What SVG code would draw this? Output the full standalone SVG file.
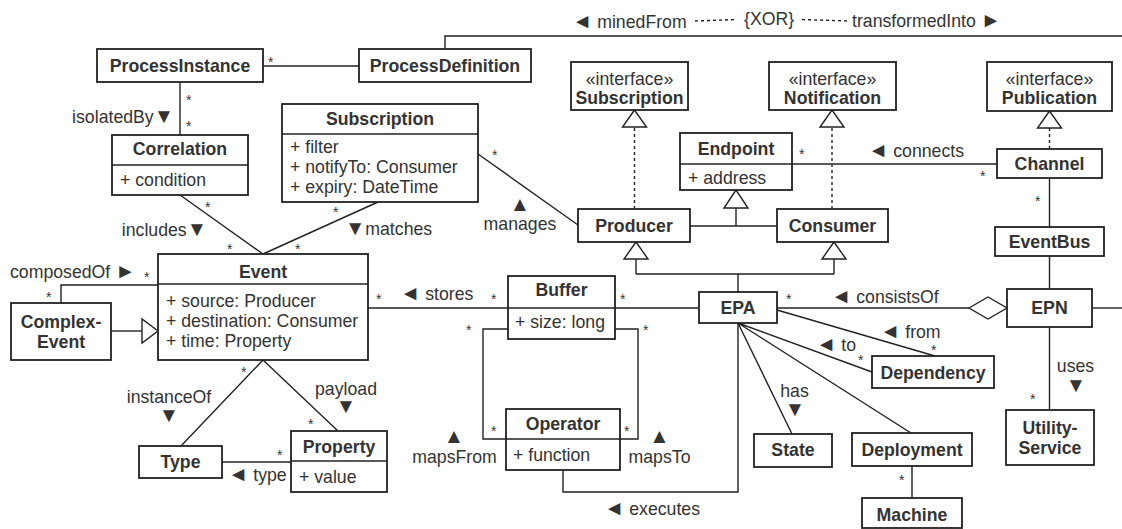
<svg xmlns="http://www.w3.org/2000/svg" width="1122" height="529" viewBox="0 0 1122 529">
<style>
.b{fill:#fff;stroke:#222;stroke-width:1.8}
.c{fill:none;stroke:#222;stroke-width:1.4}
.d{stroke-dasharray:3 3}
.h{fill:#fff;stroke:#222;stroke-width:1.4}
text{font-family:"Liberation Sans",Arial,sans-serif;font-size:17.7px;fill:#333}
.t{font-weight:bold;text-anchor:middle}
.m{text-anchor:middle}
.e{text-anchor:end}
.s{font-size:14px}
.g{font-size:20.5px}
</style>
<rect width="1122" height="529" fill="#fff"/>
<g id="connectors">
<path class="c" d="M263,66H359"/>
<path class="c" d="M445,49V36H1122"/>
<path class="c d" d="M695,21L737,19.5"/>
<path class="c d" d="M802,19.5L848,21"/>
<path class="c" d="M180,82V135"/>
<path class="c" d="M180,195L263,254"/>
<path class="c" d="M378,202L263,254"/>
<path class="c" d="M478,154L578,225"/>
<path class="c" d="M368,308H508M615,308H699"/>
<path class="c" d="M777,308H969"/>
<polygon class="h" points="969,308 988,297 1007,308 988,319"/>
<path class="c" d="M1092,308H1122"/>
<path class="c" d="M1049.5,178V227M1049.5,256V289M1049.5,327V410"/>
<path class="c" d="M792,164H997"/>
<path class="c d" d="M634.5,209V127M832,209V127M1049.5,149V128"/>
<polygon class="h" points="634.5,110 622.5,127 646.5,127"/>
<polygon class="h" points="832,110 820,127 844,127"/>
<polygon class="h" points="1049.5,111 1037.5,128 1061.5,128"/>
<path class="c" d="M690,226H777M736,226V208"/>
<polygon class="h" points="736,190 724,208 748,208"/>
<path class="c" d="M738,292V274M636,274H834M636,274V259M834,274V259"/>
<polygon class="h" points="636,242 624,259 648,259"/>
<polygon class="h" points="834,242 822,259 846,259"/>
<path class="c" d="M508,329H483V439H506"/>
<path class="c" d="M615,329H638V439H620"/>
<path class="c" d="M563,470V492H738V323"/>
<path class="c" d="M738,323L792,434M738,323L911,433M738,323L872,372M777,310L935,356"/>
<path class="c" d="M912,466V498"/>
<path class="c" d="M61,303V285H158"/>
<path class="c" d="M111,331H142"/>
<polygon class="h" points="158,331 142,319 142,343"/>
<path class="c" d="M263,360L181,446M263,360L338,431"/>
<path class="c" d="M222,462H291"/>
</g>
<g id="labels">
<text x="572" y="28"><tspan class="g">◄</tspan> minedFrom</text>
<text x="744" y="25">{XOR}</text>
<text x="852" y="27">transformedInto <tspan class="g">►</tspan></text>
<text class="s" x="268" y="67">*</text>
<text class="e" x="174" y="123">isolatedBy<tspan class="g">▼</tspan></text>
<text class="s" x="186" y="105">*</text>
<text class="s" x="186" y="131">*</text>
<text class="e" x="207" y="236">includes<tspan class="g">▼</tspan></text>
<text class="s" x="205" y="212">*</text>
<text class="s" x="227" y="254">*</text>
<text x="345" y="235"><tspan class="g">▼</tspan>matches</text>
<text class="s" x="333" y="217">*</text>
<text class="s" x="295" y="254">*</text>
<text class="m g" x="520" y="211">▲</text>
<text class="m" x="520" y="230">manages</text>
<text class="s" x="492" y="160">*</text>
<text x="10" y="278">composedOf <tspan class="g">►</tspan></text>
<text class="s" x="144" y="282">*</text>
<text class="s" x="46" y="302">*</text>
<text class="s" x="376" y="304">*</text>
<text x="400" y="300"><tspan class="g">◄</tspan> stores</text>
<text class="s" x="491" y="304">*</text>
<text class="s" x="620" y="304">*</text>
<text class="s" x="466" y="335">*</text>
<text class="s" x="643" y="335">*</text>
<text class="s" x="491" y="436">*</text>
<text class="s" x="624" y="436">*</text>
<text class="m g" x="454" y="443">▲</text>
<text class="m" x="454.5" y="463">mapsFrom</text>
<text class="m g" x="659.5" y="443">▲</text>
<text class="m" x="659.5" y="463">mapsTo</text>
<text x="604" y="515"><tspan class="g">◄</tspan> executes</text>
<text class="s" x="786" y="304">*</text>
<text x="831" y="303"><tspan class="g">◄</tspan> consistsOf</text>
<text x="880" y="338"><tspan class="g">◄</tspan> from</text>
<text class="s" x="931" y="355">*</text>
<text x="816" y="351"><tspan class="g">◄</tspan> to</text>
<text class="s" x="858" y="365">*</text>
<text class="m" x="794.5" y="397">has</text>
<text class="m g" x="795" y="416">▼</text>
<text class="s" x="899" y="485">*</text>
<text class="m" x="1075.5" y="372">uses</text>
<text class="m g" x="1076" y="392">▼</text>
<text class="s" x="1030" y="404">*</text>
<text class="s" x="1035" y="206">*</text>
<text class="s" x="980" y="181">*</text>
<text x="868" y="157"><tspan class="g">◄</tspan> connects</text>
<text class="s" x="799" y="159">*</text>
<text class="m" x="169" y="403">instanceOf</text>
<text class="m g" x="169" y="422">▼</text>
<text class="s" x="241" y="377">*</text>
<text class="m" x="346" y="394.5">payload</text>
<text class="m g" x="346" y="413">▼</text>
<text class="s" x="308" y="429">*</text>
<text class="s" x="277" y="460">*</text>
<text x="228" y="481"><tspan class="g">◄</tspan> type</text>
</g>
<g id="ProcessInstance"><rect class="b" x="97" y="49" width="166" height="33"/><text class="t" x="180" y="72">ProcessInstance</text></g>
<g id="ProcessDefinition"><rect class="b" x="359" y="49" width="172" height="33"/><text class="t" x="445" y="72">ProcessDefinition</text></g>
<g id="Correlation"><rect class="b" x="112" y="135" width="136" height="60"/><path class="c" d="M112,165H248"/><text class="t" x="180" y="155">Correlation</text><text x="120" y="186">+ condition</text></g>
<g id="SubscriptionClass"><rect class="b" x="282" y="104" width="196" height="98"/><path class="c" d="M282,134H478"/><text class="t" x="380" y="124.5">Subscription</text><text x="290" y="153">+ filter</text><text x="290" y="173">+ notifyTo: Consumer</text><text x="290" y="193">+ expiry: DateTime</text></g>
<g id="ISubscription"><rect class="b" x="571" y="62" width="117" height="48"/><text class="m" x="629.5" y="84.5">«interface»</text><text class="t" x="629.5" y="103.5">Subscription</text></g>
<g id="INotification"><rect class="b" x="769" y="62" width="127" height="48"/><text class="m" x="832.5" y="84.5">«interface»</text><text class="t" x="832.5" y="103.5">Notification</text></g>
<g id="IPublication"><rect class="b" x="987" y="62" width="125" height="49"/><text class="m" x="1049.5" y="84.5">«interface»</text><text class="t" x="1049.5" y="103.5">Publication</text></g>
<g id="Endpoint"><rect class="b" x="680" y="133" width="112" height="57"/><path class="c" d="M680,164H792"/><text class="t" x="736" y="154.5">Endpoint</text><text x="688" y="184">+ address</text></g>
<g id="Channel"><rect class="b" x="997" y="149" width="105" height="29"/><text class="t" x="1049.5" y="170">Channel</text></g>
<g id="EventBus"><rect class="b" x="995" y="227" width="109" height="29"/><text class="t" x="1049.5" y="247.5">EventBus</text></g>
<g id="EPN"><rect class="b" x="1007" y="289" width="85" height="38"/><text class="t" x="1049.5" y="314">EPN</text></g>
<g id="UtilityService"><rect class="b" x="1006" y="410" width="88" height="55"/><text class="t" x="1050" y="434">Utility-</text><text class="t" x="1050" y="454">Service</text></g>
<g id="Producer"><rect class="b" x="578" y="209" width="112" height="33"/><text class="t" x="634" y="232">Producer</text></g>
<g id="Consumer"><rect class="b" x="777" y="209" width="111" height="33"/><text class="t" x="832.5" y="232">Consumer</text></g>
<g id="EPA"><rect class="b" x="699" y="292" width="78" height="31"/><text class="t" x="738" y="314">EPA</text></g>
<g id="Event"><rect class="b" x="158" y="254" width="210" height="106"/><path class="c" d="M158,284H368"/><text class="t" x="263" y="278">Event</text><text x="166" y="307">+ source: Producer</text><text x="166" y="327">+ destination: Consumer</text><text x="166" y="347">+ time: Property</text></g>
<g id="ComplexEvent"><rect class="b" x="11" y="303" width="100" height="57"/><text class="t" x="61" y="328">Complex-</text><text class="t" x="61" y="348">Event</text></g>
<g id="Buffer"><rect class="b" x="508" y="276" width="107" height="63"/><path class="c" d="M508,308H615"/><text class="t" x="561.5" y="296">Buffer</text><text x="515" y="328">+ size: long</text></g>
<g id="Operator"><rect class="b" x="506" y="409" width="114" height="61"/><path class="c" d="M506,439H620"/><text class="t" x="563" y="429.5">Operator</text><text x="513" y="461">+ function</text></g>
<g id="Type"><rect class="b" x="139" y="446" width="83" height="32"/><text class="t" x="180.5" y="468">Type</text></g>
<g id="Property"><rect class="b" x="291" y="431" width="96" height="61"/><path class="c" d="M291,461H387"/><text class="t" x="339" y="453">Property</text><text x="299" y="483">+ value</text></g>
<g id="State"><rect class="b" x="754" y="434" width="78" height="33"/><text class="t" x="793" y="456">State</text></g>
<g id="Dependency"><rect class="b" x="872" y="356" width="122" height="32"/><text class="t" x="933" y="379">Dependency</text></g>
<g id="Deployment"><rect class="b" x="852" y="433" width="120" height="33"/><text class="t" x="912" y="456">Deployment</text></g>
<g id="Machine"><rect class="b" x="862" y="498" width="100" height="30"/><text class="t" x="912" y="521">Machine</text></g>
</svg>
